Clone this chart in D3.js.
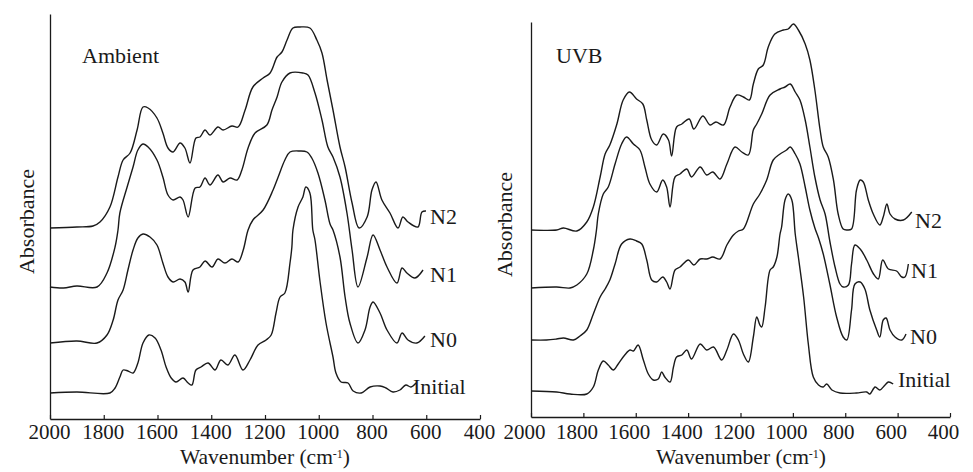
<!DOCTYPE html>
<html>
<head>
<meta charset="utf-8">
<script src="https://cdn.jsdelivr.net/npm/d3@7"></script>
<style>
  body { margin: 0; background: #fff; }
  text { font-family: "Liberation Serif", "Times New Roman", serif; fill: #1a1a1a; }
</style>
</head>
<body>
<div id="chart"></div>
<script>
// spectra: [wavenumber, absorbance (arbitrary, offset stacked)]
const ambientN2 = [[2000,191],[1900,192],[1840,193],[1814,197],[1777,212],[1747,242],[1728,259],[1702,266],[1676,289],[1654,312],[1635,311],[1602,301],[1580,286],[1561,271],[1542,267],[1516,276],[1498,271],[1479,256],[1457,281],[1442,282],[1423,289],[1405,284],[1375,292],[1356,289],[1323,293],[1300,292],[1274,309],[1245,332],[1207,341],[1181,346],[1155,362],[1137,367],[1118,379],[1096,391],[1070,392],[1033,391],[1007,379],[988,366],[969,339],[947,309],[921,272],[902,252],[876,216],[850,191],[820,202],[802,229],[787,237],[765,219],[735,206],[705,191],[687,202],[668,197],[631,192],[616,207],[601,208]];
const ambientN1 = [[2000,132],[1950,131],[1900,133],[1825,132],[1788,146],[1758,172],[1747,189],[1740,206],[1713,232],[1691,252],[1673,269],[1654,275],[1635,272],[1602,259],[1580,242],[1561,224],[1542,219],[1516,222],[1505,219],[1486,202],[1460,231],[1442,232],[1423,241],[1405,234],[1375,244],[1356,237],[1330,241],[1304,239],[1286,249],[1263,271],[1237,286],[1193,294],[1174,309],[1155,322],[1137,337],[1107,346],[1059,346],[1040,344],[1014,326],[988,299],[966,272],[947,262],[921,242],[895,206],[876,169],[854,132],[820,162],[798,184],[772,169],[746,152],[709,136],[690,151],[672,146],[642,141],[612,149]];
const ambientN0 = [[2000,76],[1900,78],[1825,76],[1788,84],[1765,99],[1747,119],[1728,129],[1710,149],[1691,169],[1673,181],[1654,185],[1628,182],[1602,174],[1580,156],[1561,142],[1542,137],[1516,140],[1498,137],[1486,127],[1468,149],[1442,152],[1423,158],[1397,152],[1375,160],[1349,156],[1323,160],[1300,157],[1281,169],[1263,189],[1245,199],[1207,209],[1170,229],[1151,242],[1126,259],[1107,267],[1070,268],[1044,267],[1026,261],[1003,246],[977,219],[958,195],[947,189],[921,162],[902,122],[884,96],[854,76],[828,89],[809,112],[798,117],[772,106],[746,89],[709,76],[690,86],[668,79],[635,76],[605,83]];
const ambientInitial = [[2000,26],[1900,27],[1777,26],[1758,31],[1740,42],[1728,49],[1710,48],[1691,46],[1673,56],[1654,76],[1632,84],[1609,81],[1587,69],[1568,52],[1549,41],[1531,37],[1505,41],[1486,36],[1472,34],[1457,49],[1438,52],[1412,56],[1386,49],[1364,59],[1338,54],[1312,64],[1282,49],[1256,59],[1226,74],[1196,79],[1177,84],[1159,106],[1144,122],[1126,126],[1107,156],[1100,172],[1096,189],[1077,212],[1059,222],[1048,232],[1033,226],[1022,189],[1014,179],[996,139],[973,96],[947,62],[936,46],[917,37],[891,36],[872,28],[842,26],[809,32],[772,33],[750,31],[724,27],[698,29],[676,34],[657,32],[638,36]];

const uvbN2 = [[2000,187],[1902,187],[1876,189],[1825,186],[1787,195],[1762,210],[1736,240],[1717,263],[1699,272],[1672,293],[1648,317],[1624,325],[1597,318],[1573,313],[1558,297],[1539,277],[1520,272],[1495,283],[1475,277],[1463,261],[1444,290],[1424,293],[1396,298],[1378,288],[1344,301],[1316,292],[1294,295],[1265,292],[1240,310],[1214,322],[1189,320],[1166,317],[1151,333],[1132,348],[1113,352],[1094,370],[1069,383],[1037,387],[1018,388],[998,393],[979,387],[953,373],[935,357],[916,327],[896,287],[884,270],[865,260],[845,237],[827,203],[808,188],[794,187],[776,188],[757,227],[743,237],[731,235],[712,217],[693,203],[668,192],[655,200],[641,213],[629,203],[610,198],[578,197],[546,205]];
const uvbN1 = [[2000,129],[1902,130],[1851,129],[1825,132],[1787,143],[1762,167],[1750,187],[1743,203],[1724,223],[1705,230],[1679,253],[1654,273],[1635,280],[1609,273],[1584,267],[1565,250],[1546,233],[1520,225],[1497,237],[1482,230],[1469,210],[1450,240],[1431,243],[1405,248],[1387,240],[1354,250],[1329,242],[1306,245],[1278,238],[1252,253],[1221,270],[1195,265],[1170,262],[1151,287],[1138,293],[1119,303],[1087,322],[1049,328],[1030,330],[1010,333],[991,325],[973,317],[953,297],[935,270],[916,240],[896,217],[877,203],[859,176],[839,150],[820,133],[808,130],[788,132],[776,153],[763,172],[743,168],[718,157],[692,143],[674,138],[657,157],[635,148],[604,146],[584,140],[572,140],[559,153]];
const uvbN0 = [[2000,77],[1941,77],[1902,78],[1876,79],[1838,77],[1813,81],[1787,87],[1762,103],[1736,120],[1717,128],[1699,137],[1679,153],[1654,173],[1622,178],[1597,176],[1577,173],[1558,157],[1539,137],[1520,135],[1497,140],[1482,135],[1469,128],[1450,147],[1431,150],[1399,157],[1378,152],[1354,158],[1329,158],[1306,160],[1278,158],[1252,172],[1227,182],[1208,186],[1189,188],[1151,213],[1126,223],[1100,237],[1075,257],[1049,263],[1024,267],[1010,270],[991,263],[973,253],[953,230],[935,207],[916,189],[902,179],[884,163],[859,133],[833,100],[808,80],[794,77],[776,107],[763,133],[743,135],[725,128],[706,107],[680,87],[668,80],[655,97],[644,99],[629,87],[610,80],[584,77],[568,83]];
const uvbInitial = [[2000,26],[1902,25],[1851,23],[1787,23],[1762,30],[1743,47],[1724,56],[1705,52],[1686,47],[1667,53],[1642,62],[1622,67],[1609,66],[1591,72],[1571,57],[1552,43],[1533,37],[1514,38],[1501,45],[1489,40],[1469,35],[1456,50],[1444,60],[1424,62],[1405,67],[1387,58],[1354,73],[1329,67],[1303,70],[1272,57],[1252,67],[1227,83],[1208,77],[1189,63],[1170,55],[1151,80],[1138,100],[1126,92],[1119,90],[1106,110],[1087,147],[1075,150],[1061,160],[1049,183],[1043,190],[1030,217],[1018,223],[1004,217],[991,183],[979,160],[959,120],[941,73],[922,40],[902,32],[884,30],[871,33],[851,27],[820,24],[757,24],[718,25],[706,23],[686,30],[668,27],[648,32],[635,35],[617,33]];

const xTicks = [2000, 1800, 1600, 1400, 1200, 1000, 800, 600, 400];
const xLabel = "Wavenumber (cm";
const yLabel = "Absorbance";

const panels = [
  { name: "Ambient", left: 50, right: 480, top: 14, bottom: 419, yMax: 405, nameX: 82,
    tickDx: -1, titleX: 265, yLabelX: 34,
    series: [
      { label: "N2", data: ambientN2, lx: 430, ly: 224 },
      { label: "N1", data: ambientN1, lx: 430, ly: 282 },
      { label: "N0", data: ambientN0, lx: 430, ly: 347 },
      { label: "Initial", data: ambientInitial, lx: 413, ly: 394 }
    ] },
  { name: "UVB", left: 531, right: 950, top: 22, bottom: 417, yMax: 395, nameX: 556,
    tickDx: -7, titleX: 741, yLabelX: 512,
    series: [
      { label: "N2", data: uvbN2, lx: 915, ly: 228 },
      { label: "N1", data: uvbN1, lx: 911, ly: 278 },
      { label: "N0", data: uvbN0, lx: 910, ly: 344 },
      { label: "Initial", data: uvbInitial, lx: 898, ly: 387 }
    ] }
];

const width = 973, height = 472;
const tickBaseline = 439;   // both panels share the label row
const svg = d3.select("#chart").append("svg")
  .attr("width", width)
  .attr("height", height);

panels.forEach(function(p) {
  const x = d3.scaleLinear().domain([2000, 400]).range([p.left, p.right]);
  const y = d3.scaleLinear().domain([0, p.yMax]).range([p.bottom, p.top]);

  // x axis, ticks pointing inward
  const xAxis = svg.append("g")
    .attr("transform", `translate(0, ${p.bottom})`)
    .call(d3.axisBottom(x).tickValues(xTicks).tickSizeInner(-4).tickSizeOuter(0).tickFormat(d3.format("d")));
  xAxis.select(".domain").attr("stroke", "#1a1a1a").attr("stroke-width", 1.3);
  xAxis.selectAll(".tick line").attr("stroke", "#1a1a1a").attr("stroke-width", 1.2);
  xAxis.selectAll(".tick text")
    .attr("y", tickBaseline - p.bottom)
    .attr("dy", 0)
    .attr("dx", p.tickDx)
    .attr("font-size", 21)
    .attr("fill", "#1a1a1a");

  // y axis: bare line
  const yAxis = svg.append("g")
    .attr("transform", `translate(${p.left}, 0)`)
    .call(d3.axisLeft(y).ticks(0).tickSizeOuter(0));
  yAxis.select(".domain").attr("stroke", "#1a1a1a").attr("stroke-width", 1.3);

  const line = d3.line()
    .x(d => x(d[0]))
    .y(d => y(d[1]))
    .curve(d3.curveCatmullRom.alpha(0.5));

  p.series.forEach(function(s) {
    svg.append("path")
      .datum(s.data)
      .attr("fill", "none")
      .attr("stroke", "#1a1a1a")
      .attr("stroke-width", 1.4)
      .attr("d", line);

    svg.append("text")
      .attr("x", s.lx)
      .attr("y", s.ly)
      .style("font-size", "22px")
      .text(s.label);
  });

  // panel name
  svg.append("text")
    .attr("x", p.nameX)
    .attr("y", 63)
    .style("font-size", "22px")
    .text(p.name);

  // x axis title with superscript
  const xt = svg.append("text")
    .attr("x", p.titleX)
    .attr("y", 463.5)
    .style("text-anchor", "middle")
    .style("font-size", "21.5px");
  xt.append("tspan").text(xLabel);
  xt.append("tspan").attr("dy", -6).style("font-size", "12px").text("-1");
  xt.append("tspan").attr("dy", 6).text(")");

  // y axis title
  svg.append("text")
    .attr("transform", `translate(${p.yLabelX}, ${(p.top + p.bottom) / 2 + 5}) rotate(-90)`)
    .style("text-anchor", "middle")
    .style("font-size", "22px")
    .text(yLabel);
});
</script>
</body>
</html>
